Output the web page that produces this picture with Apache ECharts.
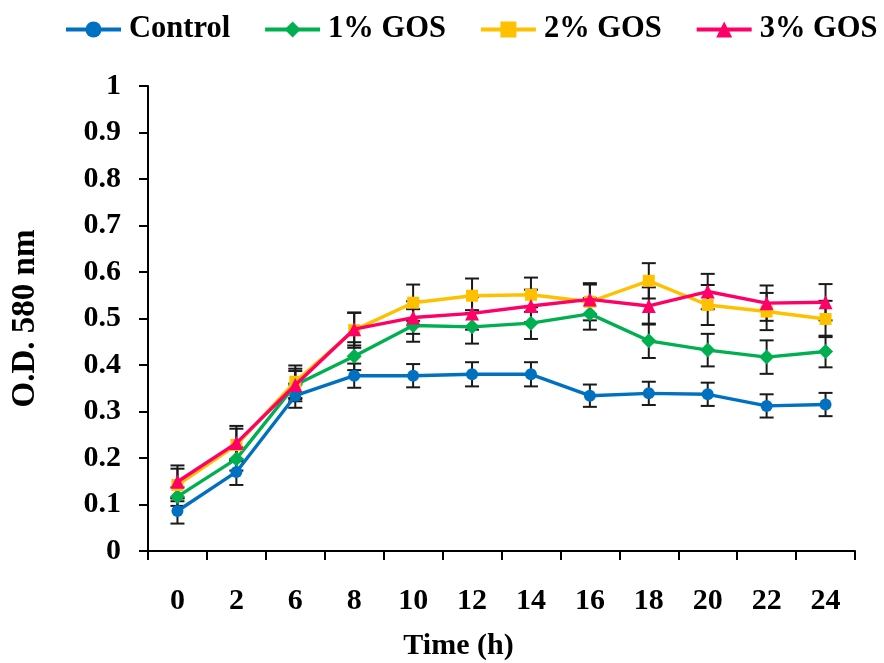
<!DOCTYPE html>
<html>
<head>
<meta charset="utf-8">
<script src="https://cdn.jsdelivr.net/npm/echarts@6/dist/echarts.min.js"></script>
<style>html,body{margin:0;padding:0;background:#fff;overflow:hidden;}#c{width:884px;height:663px;}</style>
</head>
<body>
<div id="c"></div>
<script>
var categories = ['0','2','6','8','10','12','14','16','18','20','22','24'];
var yTicks = [0,0.1,0.2,0.3,0.4,0.5,0.6,0.7,0.8,0.9,1];
var controlVals = [0.086,0.170,0.334,0.377,0.377,0.380,0.380,0.334,0.339,0.337,0.312,0.315];
var controlErr  = [0.027,0.028,0.026,0.026,0.025,0.026,0.026,0.024,0.025,0.025,0.025,0.025];
var gos1Vals = [0.117,0.198,0.357,0.419,0.485,0.482,0.490,0.510,0.452,0.432,0.417,0.429];
var gos1Err  = [0.020,0.025,0.030,0.030,0.035,0.036,0.034,0.034,0.037,0.035,0.036,0.034];
var gos2Vals = [0.142,0.228,0.364,0.475,0.534,0.549,0.551,0.536,0.581,0.529,0.515,0.499];
var gos2Err  = [0.035,0.035,0.035,0.038,0.039,0.037,0.037,0.040,0.038,0.043,0.040,0.039];
var gos3Vals = [0.149,0.232,0.357,0.477,0.502,0.511,0.527,0.541,0.527,0.558,0.533,0.535];
var gos3Err  = [0.035,0.037,0.035,0.035,0.035,0.035,0.035,0.032,0.040,0.038,0.038,0.039];

var FONT = '"Liberation Serif","Times New Roman",serif';
var chart = echarts.init(document.getElementById('c'));

function errData(vals, errs){
  return vals.map(function(v,i){ return [i, v - errs[i], v + errs[i]]; });
}
function errSeries(vals, errs){
  return {
    type: 'custom',
    z: 1,
    silent: true,
    data: errData(vals, errs),
    renderItem: function(params, api){
      var x = api.value(0);
      var lo = api.coord([x, api.value(1)]);
      var hi = api.coord([x, api.value(2)]);
      var w = 7;
      var st = {stroke: '#1a1a1a', lineWidth: 2};
      return {type:'group', children:[
        {type:'line', shape:{x1:lo[0],y1:lo[1],x2:hi[0],y2:hi[1]}, style:st},
        {type:'line', shape:{x1:lo[0]-w,y1:lo[1],x2:lo[0]+w,y2:lo[1]}, style:st},
        {type:'line', shape:{x1:hi[0]-w,y1:hi[1],x2:hi[0]+w,y2:hi[1]}, style:st}
      ]};
    }
  };
}
function lineSeries(name, vals, color, symbol, size, z){
  return {
    name: name, type: 'line', data: vals, z: z,
    symbol: symbol, symbolSize: size,
    lineStyle: {color: color, width: 3.4},
    itemStyle: {color: color},
    emphasis: {disabled: true}
  };
}

chart.setOption({
  animation: false,
  backgroundColor: '#fff',
  legend: {
    top: 14, left: 64, right: 0, padding: 0,
    itemWidth: 55, itemHeight: 20, itemGap: 33,
    lineStyle: {width: 4},
    textStyle: {fontFamily: FONT, fontWeight: 'bold', fontSize: 30.5, color: '#000', padding: [0,0,0,3]},
    data: ['Control','1% GOS','2% GOS','3% GOS']
  },
  grid: {left: 148, width: 707, top: 86, height: 465, outerBoundsMode: 'none', containLabel: false},
  xAxis: {
    type: 'category', data: categories, boundaryGap: true,
    axisLine: {lineStyle: {color: '#000', width: 2}},
    axisTick: {show: true, length: 9, interval: 0, lineStyle: {color: '#000', width: 2}},
    axisLabel: {margin: 35, fontFamily: FONT, fontWeight: 'bold', fontSize: 30, color: '#000'},
    name: 'Time (h)', nameLocation: 'middle', nameGap: 80,
    nameTextStyle: {fontFamily: FONT, fontWeight: 'bold', fontSize: 30, color: '#000', padding: [0, 86, 0, 0]}
  },
  yAxis: {
    type: 'value', min: 0, max: 1, interval: 0.1,
    splitLine: {show: false},
    axisLine: {show: true, lineStyle: {color: '#000', width: 2}},
    axisTick: {show: true, length: 9, inside: false, lineStyle: {color: '#000', width: 2}},
    axisLabel: {margin: 27, fontFamily: FONT, fontWeight: 'bold', fontSize: 30, color: '#000',
      formatter: function(v){ var t = yTicks.find(function(k){return Math.abs(k-v)<1e-9;}); return t === undefined ? '' : String(t); }},
    name: 'O.D. 580 nm', nameLocation: 'middle', nameGap: 106,
    nameTextStyle: {fontFamily: FONT, fontWeight: 'bold', fontSize: 33, color: '#000'}
  },
  series: [
    errSeries(controlVals, controlErr),
    errSeries(gos1Vals, gos1Err),
    errSeries(gos2Vals, gos2Err),
    errSeries(gos3Vals, gos3Err),
    lineSeries('Control', controlVals, '#0070C0', 'circle', 12, 3),
    lineSeries('1% GOS', gos1Vals, '#00B050', 'diamond', 15, 4),
    lineSeries('2% GOS', gos2Vals, '#FFC000', 'rect', 12, 5),
    lineSeries('3% GOS', gos3Vals, '#FF0066', 'triangle', 14, 6)
  ]
});
</script>
</body>
</html>
